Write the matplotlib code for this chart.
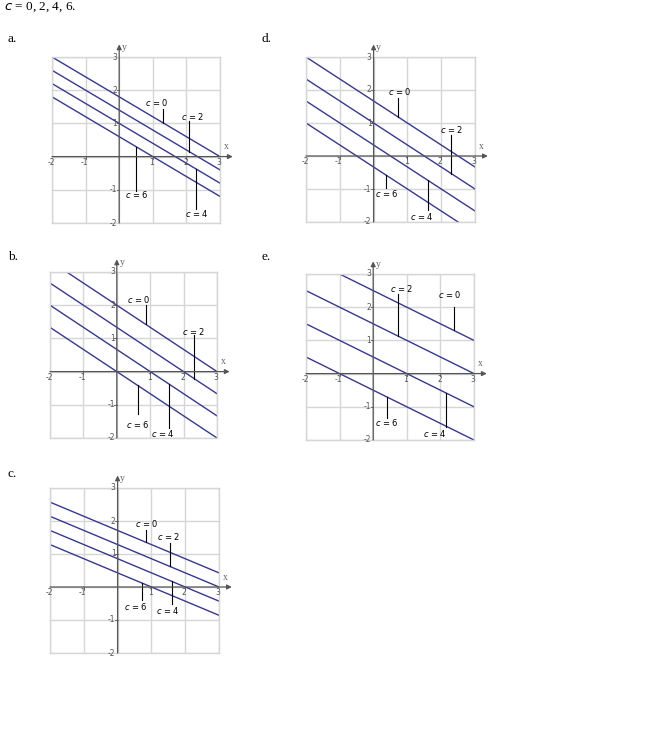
import numpy as np
import matplotlib.pyplot as plt

# Level values shown in every panel
c_values = [0, 2, 4, 6]

# Panel names, slope of the level lines and y-intercept for c = 0, 2, 4, 6
panel_names = ["a.", "b.", "c.", "d.", "e."]
slopes = [-3 / 5, -2 / 3, -3 / 7, -2 / 3, -1 / 2]
intercepts = [
    [9 / 5, 7 / 5, 5 / 5, 3 / 5],
    [6 / 3, 4 / 3, 2 / 3, 0 / 3],
    [12 / 7, 9 / 7, 6 / 7, 3 / 7],
    [5 / 3, 3 / 3, 1 / 3, -1 / 3],
    [5 / 2, 3 / 2, 1 / 2, -1 / 2],
]
tick_values = [-2, -1, 1, 2, 3]

# Layout: axes box in pixels (left, right, top, bottom) and letter position
W, H = 653, 755
boxes = {
    "a.": (52, 220, 57, 223),
    "b.": (50, 217, 272, 438),
    "c.": (50, 219, 488, 653),
    "d.": (306, 475, 57, 222),
    "e.": (306, 474, 274, 440),
}
letter_pos = {
    "a.": (8, 39),
    "b.": (8, 257),
    "c.": (8, 474),
    "d.": (262, 39),
    "e.": (262, 257),
}
# leader line: (x, free end y, text x, text y) for c = 0, 2, 4, 6
leaders = {
    "a.": [(1.30, 1.44, 1.13, 1.63), (2.08, 1.06, 2.18, 1.21),
           (2.30, -1.59, 2.30, -1.72), (0.50, -1.04, 0.52, -1.14)],
    "b.": [(0.87, 2.02, 0.65, 2.17), (2.32, 1.10, 2.29, 1.20),
           (1.57, -1.70, 1.39, -1.85), (0.62, -1.27, 0.62, -1.58)],
    "c.": [(0.85, 1.72, 0.87, 1.92), (1.55, 1.33, 1.50, 1.52),
           (1.60, -0.50, 1.50, -0.71), (0.71, -0.40, 0.55, -0.59)],
    "d.": [(0.72, 1.75, 0.77, 1.95), (2.30, 0.64, 2.30, 0.79),
           (1.60, -1.64, 1.42, -1.84), (0.38, -0.98, 0.40, -1.13)],
    "e.": [(2.39, 2.00, 2.27, 2.38), (0.73, 2.40, 0.84, 2.57),
           (2.16, -1.60, 1.84, -1.80), (0.41, -1.33, 0.40, -1.47)],
}

line_color = "#38388e"
grid_color = "#d6d6d6"
axis_color = "#555555"
serif = "Liberation Serif"

fig = plt.figure(figsize=(W / 100, H / 100), dpi=100)
fig.patch.set_facecolor("white")

fig.text(4 / W, 1 - 7 / H, "$c$ = 0, 2, 4, 6.", family=serif, fontsize=9.5,
         ha="left", va="center")

for name, m, bs in zip(panel_names, slopes, intercepts):
    l, r, t, b = boxes[name]
    ax = fig.add_axes([l / W, 1 - b / H, (r - l) / W, (b - t) / H])
    ax.set_xlim(-2, 3)
    ax.set_ylim(-2, 3)
    ax.set_xticks(range(-2, 4))
    ax.set_yticks(range(-2, 4))
    ax.grid(True, color=grid_color, lw=1.0)
    ax.tick_params(length=0, labelbottom=False, labelleft=False)
    for sp in ax.spines.values():
        sp.set_color(grid_color)
        sp.set_linewidth(1.0)

    # coordinate axes with arrows
    ax.annotate("", xy=(3.38, 0), xytext=(-2, 0), annotation_clip=False,
                arrowprops=dict(arrowstyle="-|>", color=axis_color, lw=0.9,
                                mutation_scale=7, shrinkA=0, shrinkB=0))
    ax.annotate("", xy=(0, 3.38), xytext=(0, -2), annotation_clip=False,
                arrowprops=dict(arrowstyle="-|>", color=axis_color, lw=0.9,
                                mutation_scale=7, shrinkA=0, shrinkB=0))
    ax.text(3.2, 0.29, "x", family=serif, fontsize=7, color="#666666",
            ha="center", va="center", clip_on=False)
    ax.text(0.15, 3.3, "y", family=serif, fontsize=7, color="#666666",
            ha="center", va="center", clip_on=False)

    for v in tick_values:
        ax.plot([v, v], [0, -0.08], color=axis_color, lw=0.6, clip_on=False)
        ax.text(v - 0.03, -0.04, str(v), fontsize=5.5, color="#555555",
                ha="center", va="top", clip_on=False)
        ax.plot([-0.08, 0], [v, v], color=axis_color, lw=0.6, clip_on=False)
        ax.text(-0.06, v, str(v), fontsize=5.5, color="#555555",
                ha="right", va="center", clip_on=False)

    # level lines
    xs = np.array([-2.0, 3.0])
    for c, b0 in zip(c_values, bs):
        ax.plot(xs, b0 + m * xs, color=line_color, lw=1.0)

    # leader lines and labels
    for c, b0, (lx, ly, tx, ty) in zip(c_values, bs, leaders[name]):
        ax.plot([lx, lx], [b0 + m * lx, ly], color="black", lw=0.8)
        ax.text(tx, ty, f"$c$ = {c}", fontsize=6, ha="center", va="center")

    px, py = letter_pos[name]
    fig.text(px / W, 1 - py / H, name, family=serif, fontsize=9.5,
             ha="left", va="center")

fig.savefig("out.png", dpi=100, facecolor="white")
